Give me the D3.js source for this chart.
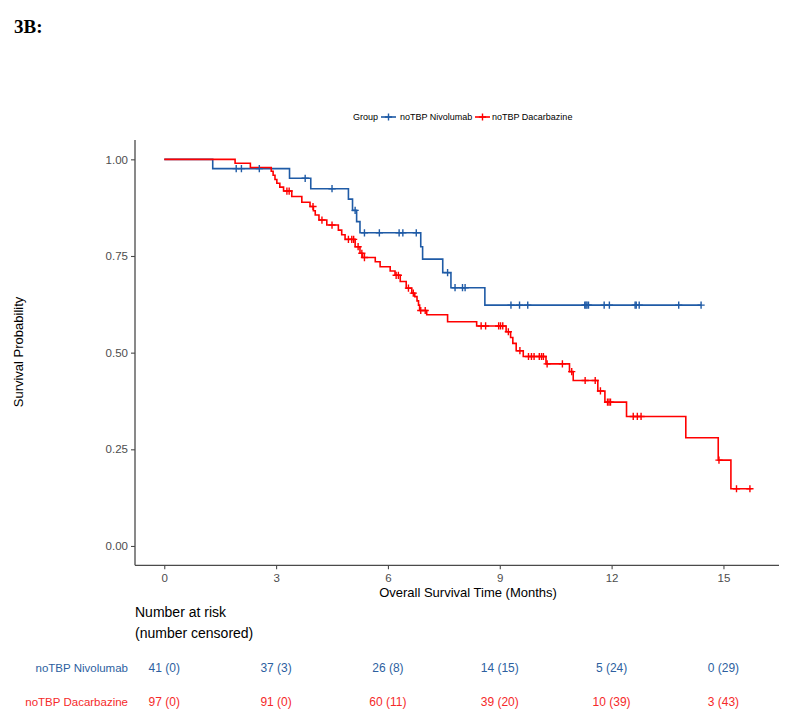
<!DOCTYPE html>
<html><head><meta charset="utf-8">
<script src="https://cdn.jsdelivr.net/npm/d3@7"></script>
<style>
body{margin:0;background:#fff;}
svg{font-family:"Liberation Sans",Arial,sans-serif;}
</style></head>
<body><svg id="c" width="800" height="715"></svg>
<script>
// ---- data ----
const groups = ["noTBP Nivolumab", "noTBP Dacarbazine"];
const nivoTimes = [0, 1.30, 3.36, 3.93, 4.94, 5.05, 5.16, 5.25, 6.88, 6.93, 7.47, 7.69, 8.60, 14.40];
const nivoSurv  = [1, 0.976, 0.951, 0.924, 0.897, 0.868, 0.839, 0.810, 0.774, 0.742, 0.707, 0.668, 0.623, 0.623];
const nivoCensor = [1.93, 2.07, 2.55, 3.78, 4.50, 5.12, 5.37, 5.77, 6.30, 6.40, 6.76, 7.60, 7.80, 8.00, 8.07,
  9.30, 9.53, 9.75, 11.28, 11.31, 11.34, 11.38, 11.80, 11.94, 12.63, 12.66, 12.74, 13.80, 14.40];
const dacaTimes = [0, 1.90, 2.31, 2.87, 2.92, 2.97, 3.02, 3.10, 3.20, 3.42, 3.69, 3.91, 4.00, 4.05, 4.15, 4.36, 4.67,
  4.76, 4.85, 5.12, 5.25, 5.32, 5.66, 5.79, 6.06, 6.19, 6.33, 6.49, 6.64, 6.72, 6.78, 6.82, 6.85, 7.04, 7.60, 8.38,
  9.17, 9.29, 9.35, 9.44, 9.63, 10.24, 10.87, 10.97, 11.63, 11.82, 12.40, 13.99, 14.86, 15.20, 15.75];
const dacaSurv = [1, 0.990, 0.979, 0.969, 0.959, 0.948, 0.938, 0.928, 0.918, 0.904, 0.889, 0.878, 0.867, 0.856, 0.843,
  0.830, 0.817, 0.805, 0.793, 0.774, 0.757, 0.746, 0.735, 0.722, 0.711, 0.700, 0.684, 0.667, 0.654, 0.645, 0.634,
  0.623, 0.609, 0.598, 0.580, 0.569, 0.554, 0.539, 0.524, 0.505, 0.490, 0.471, 0.451, 0.428, 0.401, 0.372, 0.335,
  0.280, 0.222, 0.148, 0.148];
const dacaCensor = [3.29, 3.35, 3.99, 4.23, 4.50, 4.94, 5.03, 5.08, 5.20, 5.30, 5.37, 6.22, 6.28, 6.55, 6.68, 6.88,
  7.00, 8.50, 8.62, 8.97, 9.02, 9.08, 9.23, 9.54, 9.77, 9.85, 9.92, 10.06, 10.12, 10.17, 10.27, 10.68, 10.93, 11.29,
  11.56, 11.70, 11.89, 11.93, 11.97, 12.58, 12.69, 12.79, 14.88, 15.35, 15.71];
const riskTimes = [0, 3, 6, 9, 12, 15];
const nivoAtRisk = [41, 37, 26, 14, 5, 0];
const nivoCens   = [0, 3, 8, 15, 24, 29];
const dacaAtRisk = [97, 91, 60, 39, 10, 3];
const dacaCens   = [0, 0, 11, 20, 39, 43];
const yTicks = [0, 0.25, 0.5, 0.75, 1];
const xTicks = [0, 3, 6, 9, 12, 15];
const colors = ["#1F5BA6", "#FF0000"];
const textColors = ["#2D5F9F", "#F52A2A"];

// ---- layout ----
const svg = d3.select("#c");
const x = d3.scaleLinear().domain([-0.785, 16.49]).range([135, 779]);
const y = d3.scaleLinear().domain([-0.05, 1.05]).range([565.3, 140]);

// title
svg.append("text").attr("x", 14).attr("y", 33).attr("font-family", "'Liberation Serif','Times New Roman',serif")
  .attr("font-weight", "bold").attr("font-size", 19).attr("fill", "#000").text("3B:");

// axes
const axL = svg.append("g").attr("transform", "translate(135,0)")
  .call(d3.axisLeft(y).tickValues(yTicks).tickFormat(d3.format(".2f")).tickSize(4).tickPadding(3));
const axB = svg.append("g").attr("transform", "translate(0,565.3)")
  .call(d3.axisBottom(x).tickValues(xTicks).tickSize(4).tickPadding(5));
[axL, axB].forEach(a => {
  a.select(".domain").attr("stroke", "#4a4a4a").attr("stroke-width", 1.3);
  a.selectAll(".tick line").attr("stroke", "#4a4a4a").attr("stroke-width", 1.1);
  a.selectAll(".tick text").attr("fill", "#4d4d4d").attr("font-size", 11.5)
    .attr("font-family", "'Liberation Sans',Arial,sans-serif");
});
axL.select(".domain").attr("d", "M0,140V565.3");
axB.select(".domain").attr("d", "M135,0H779");

// axis titles
svg.append("text").attr("transform", "translate(23,352) rotate(-90)").attr("text-anchor", "middle")
  .attr("font-size", 13).attr("fill", "#000").text("Survival Probability");
svg.append("text").attr("x", 468).attr("y", 597).attr("text-anchor", "middle")
  .attr("font-size", 13).attr("fill", "#000").text("Overall Survival Time (Months)");

// curves
const series = [
  {t: nivoTimes, s: nivoSurv, c: nivoCensor},
  {t: dacaTimes, s: dacaSurv, c: dacaCensor}
];
const line = d3.line().x(d => x(d[0])).y(d => y(d[1])).curve(d3.curveStepAfter);
function survAt(ser, t) {
  let v = ser.s[0];
  for (let i = 0; i < ser.t.length; i++) if (ser.t[i] <= t) v = ser.s[i];
  return v;
}
const plus = (g, cx, cy, col) => {
  g.append("path").attr("d", `M${cx-3.6},${cy}H${cx+3.6}M${cx},${cy-3.6}V${cy+3.6}`)
    .attr("stroke", col).attr("stroke-width", 1.4).attr("fill", "none");
};
// steps in group order (Nivolumab first, Dacarbazine on top), then censor marks
const gSteps = svg.append("g"), gCens = svg.append("g");
series.forEach((ser, k) => {
  const pts = ser.t.map((t, i) => [t, ser.s[i]]);
  gSteps.append("path").attr("d", line(pts)).attr("fill", "none").attr("stroke", colors[k]).attr("stroke-width", 1.6);
});
series.forEach((ser, k) => {
  ser.c.forEach(t => plus(gCens, x(t), y(survAt(ser, t)), colors[k]));
});

// legend
const lg = svg.append("g").attr("font-size", 9).attr("fill", "#000");
lg.append("text").attr("x", 353).attr("y", 120).attr("font-size", 9).text("Group");
const keyX = [381, 475], labX = [400, 492];
groups.forEach((gname, k) => {
  lg.append("path").attr("d", `M${keyX[k]},117H${keyX[k]+15}`).attr("stroke", colors[k]).attr("stroke-width", 1.6);
  plus(lg, keyX[k] + 7.5, 117, colors[k]);
  lg.append("text").attr("x", labX[k]).attr("y", 120).text(gname);
});

// risk table
svg.append("text").attr("x", 135).attr("y", 617).attr("font-size", 14).attr("fill", "#000").text("Number at risk");
svg.append("text").attr("x", 135).attr("y", 638).attr("font-size", 14).attr("fill", "#000").text("(number censored)");
const rows = [{n: nivoAtRisk, c: nivoCens, y: 672}, {n: dacaAtRisk, c: dacaCens, y: 706}];
rows.forEach((r, k) => {
  svg.append("text").attr("x", 128).attr("y", r.y).attr("text-anchor", "end").attr("font-size", 11.5)
    .attr("fill", textColors[k]).text(groups[k]);
  riskTimes.forEach((t, i) => {
    svg.append("text").attr("x", x(t)).attr("y", r.y).attr("text-anchor", "middle").attr("font-size", 12)
      .attr("fill", textColors[k]).text(`${r.n[i]} (${r.c[i]})`);
  });
});
</script></body></html>
